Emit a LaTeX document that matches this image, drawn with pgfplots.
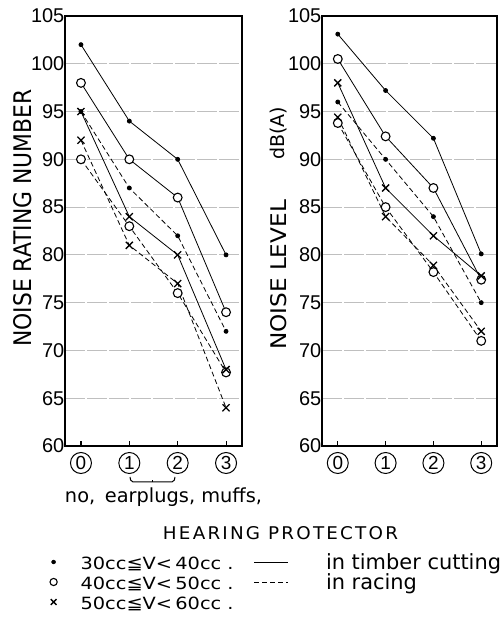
\documentclass[border=0pt]{standalone}
\usepackage{pgfplots}
\pgfplotsset{compat=1.18}
\usepackage{pgfplotstable}
\usepackage{graphicx}
\usepackage{fontspec}
\setmainfont{DejaVu Sans}
\newfontfamily\numfont{Liberation Sans}

% Noise rating number (left) and A-weighted level (right) per protector class
% td/tc/tx: timber cutting, rd/rc/rx: racing; d: 30-40cc, c: 40-50cc, x: 50-60cc
\pgfplotstableread{
p td  tc  tx  rd  rc   rx
0 102 98  95  95  90   92
1 94  90  84  87  83   81
2 90  86  80  82  76   77
3 80  74  68  72  67.7 64
}\nrn
\pgfplotstableread{
p td    tc    tx    rd  rc   rx
0 103.1 100.5 98    96  93.8 94.4
1 97.2  92.4  87    90  85   84
2 92.2  87    82    84  78.2 78.9
3 80.1  77.4  77.8  75  71   72
}\dba

\pgfplotsset{
  timber/.style={black, line width=0.8bp, solid},
  racing/.style={black, line width=0.8bp, dash pattern=on 5bp off 3bp},
  dotm/.style={mark=*, mark size=2bp, mark options={solid, fill=black}},
  circm/.style={mark=*, mark size=4.4bp, mark options={solid, draw=black, fill=white, line width=1.1bp}},
  xm/.style={mark=x, mark size=5bp, mark options={solid, line width=1.3bp}},
  panel/.style={
    scale only axis, height=430bp,
    xmin=-0.33, xmax=3.33, ymin=60, ymax=105,
    xtick={0,1,2,3}, xticklabels={{0},{1},{2},{3}},
    ytick={60,65,...,105},
    axis line style={line width=1.3bp},
    tick align=inside, xtick pos=left, ytick pos=left,
    major tick length=5bp,
    xtick style={line width=1.1bp, black},
    ytick style={draw=none},
    ymajorgrids,
    major grid style={gray!50, line width=0.8bp, dash pattern=on 20bp off 2bp},
    /pgf/number format/assume math mode=true,
    yticklabel style={font=\numfont\fontsize{20}{20}\selectfont, inner sep=0.5bp},
    xticklabel style={draw, circle, line width=1bp, minimum size=21bp, inner sep=0pt,
      font=\numfont\fontsize{19}{19}\selectfont, anchor=north, yshift=-6bp},
    clip=false,
  },
  markimg/.style={legend image code/.code={%
      \path[draw=none, fill=none] (0bp,-9bp) rectangle (30bp,9bp);
      \draw[##1] plot coordinates {(3bp,4bp)};}},
  lineimg/.style={legend image code/.code={%
      \path[draw=none, fill=none] (0bp,-9bp) rectangle (72bp,9bp);
      \draw[##1] (0bp,4bp) -- (34bp,4bp);}},
}

\newcommand\cls[1]{\resizebox{153bp}{12.5bp}{#1}}

\begin{document}
\begin{tikzpicture}[x=1bp,y=1bp]
\useasboundingbox (0,0) rectangle (503,622);

\begin{axis}[panel, width=177bp, at={(65bp,176bp)}, anchor=south west,
  legend columns=2, legend cell align=left,
  legend style={draw=none, fill=none, inner sep=0pt, outer sep=0pt,
    at={(-0.0847,-0.2558)}, anchor=north west,
    row sep=0pt, column sep=0pt,
    nodes={inner sep=0pt, text height=14bp, text depth=6bp},
    /tikz/every even column/.append style={column sep=20bp}}]
  % legend keys
  \addlegendimage{dotm, markimg}
  \addlegendentry{\cls{30cc≦V<\,40cc\ .}}
  \addlegendimage{timber, lineimg}
  \addlegendentry{\fontsize{21}{21}\selectfont in timber cutting}
  \addlegendimage{circm, mark size=3.6bp, markimg}
  \addlegendentry{\cls{40cc≦V<\,50cc\ .}}
  \addlegendimage{racing, lineimg}
  \addlegendentry{\fontsize{21}{21}\selectfont in racing}
  \addlegendimage{xm, mark size=4bp, markimg}
  \addlegendentry{\cls{50cc≦V<\,60cc\ .}}
  % data
  \addplot[timber, dotm, forget plot] table[x=p, y=td] {\nrn};
  \addplot[timber, circm, forget plot] table[x=p, y=tc] {\nrn};
  \addplot[racing, dotm, forget plot] table[x=p, y=rd] {\nrn};
  \addplot[racing, circm, forget plot] table[x=p, y=rc] {\nrn};
  \addplot[racing, xm, forget plot] table[x=p, y=rx] {\nrn};
  \addplot[timber, xm, forget plot] table[x=p, y=tx] {\nrn};
\end{axis}

\begin{axis}[panel, width=175bp, at={(322bp,176bp)}, anchor=south west]
  \addplot[timber, dotm] table[x=p, y=td] {\dba};
  \addplot[timber, circm] table[x=p, y=tc] {\dba};
  \addplot[racing, dotm] table[x=p, y=rd] {\dba};
  \addplot[racing, circm] table[x=p, y=rc] {\dba};
  \addplot[racing, xm] table[x=p, y=rx] {\dba};
  \addplot[timber, xm] table[x=p, y=tx] {\dba};
\end{axis}

% axis titles
\node[rotate=90] at (23,404) {\resizebox{257bp}{18bp}{NOISE RATING NUMBER}};
\node[rotate=90] at (278.5,347) {\resizebox{150bp}{16bp}{NOISE LEVEL}};
\node[rotate=90] at (278.5,488.5) {\resizebox{53bp}{!}{dB(A)}};

% protector classes
\draw[line width=1bp, rounded corners=2bp] (130,145) -- (131,140) -- (174,140) -- (175,145);
\draw[line width=1bp] (152.5,140) -- (152.5,142);
\node[anchor=base] at (163.5,119) {\resizebox{197bp}{!}{no,\enspace earplugs, muffs,}};
\node[anchor=base] at (280.5,82) {\resizebox{235bp}{13bp}{\addfontfeature{LetterSpace=12}HEARING PROTECTOR}};
\end{tikzpicture}
\end{document}
